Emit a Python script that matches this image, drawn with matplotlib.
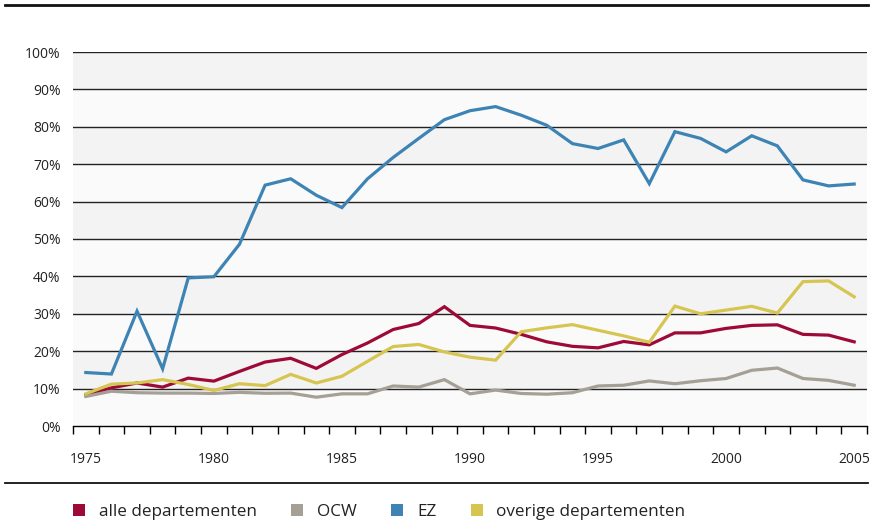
import numpy as np
import matplotlib as mpl
import matplotlib.pyplot as plt
from matplotlib.lines import Line2D
from matplotlib.patches import Patch

mpl.rcParams['font.family'] = ['Open Sans', 'DejaVu Sans']

years = list(range(1975, 2006))

alle = [8.3, 10.2, 11.5, 10.4, 12.8, 12.0, 14.6, 17.1, 18.1, 15.4, 19.1, 22.2,
        25.8, 27.4, 31.9, 26.9, 26.2, 24.5, 22.5, 21.3, 20.9,
        22.6, 21.7, 24.9, 24.9, 26.1, 26.9, 27.05, 24.5, 24.3, 22.5]
ocw = [7.9, 9.3, 8.9, 8.8, 8.8, 8.7, 9.0, 8.75, 8.8, 7.7, 8.6, 8.6,
       10.7, 10.4, 12.4, 8.6, 9.6, 8.7, 8.5, 8.9, 10.7,
       10.9, 12.05, 11.3, 12.1, 12.7, 14.9, 15.5, 12.7, 12.2, 10.9]
ez = [14.3, 13.9, 30.7, 15.3, 39.6, 39.9, 48.6, 64.4, 66.1, 61.7, 58.4, 66.1,
      71.8, 76.9, 81.9, 84.3, 85.4, 83.1, 80.4, 75.5, 74.2,
      76.5, 64.8, 78.7, 76.9, 73.3, 77.6, 74.9, 65.8, 64.2, 64.7]
overig = [8.6, 11.2, 11.5, 12.4, 11.1, 9.5, 11.3, 10.8, 13.8, 11.5, 13.3, 17.3,
          21.25, 21.8, 19.8, 18.4, 17.6, 25.2, 26.25, 27.1, 25.6,
          24.1, 22.4, 32.05, 30.0, 31.0, 32.0, 30.2, 38.6, 38.8, 34.55]

series = [
    ('alle departementen', alle, '#9e0a38'),
    ('OCW', ocw, '#a59f95'),
    ('EZ', ez, '#3d84b5'),
    ('overige departementen', overig, '#d6c550'),
]

fig = plt.figure(figsize=(8.73, 5.25), dpi=100, facecolor='white')
ax = fig.add_axes([73 / 873, 99 / 525, 794 / 873, 374 / 525])

x = np.arange(len(years))

# alternating background bands
for lo in range(0, 100, 10):
    col = '#f3f3f3' if (lo // 10) % 2 == 1 else '#fafafa'
    ax.axhspan(lo, lo + 10, color=col, lw=0, zorder=0)
for v in range(10, 101, 10):
    ax.axhline(v, color='#222222', lw=1.0, zorder=1)

for name, vals, col in series:
    ax.plot(x, vals, color=col, lw=2.3, zorder=3, solid_joinstyle='miter')

ax.set_xlim(-0.5, len(years) - 0.5)
ax.set_ylim(0, 100)

ax.set_yticks(range(0, 101, 10))
ax.set_yticklabels(['%d%%' % v for v in range(0, 101, 10)], fontsize=10, color='#222222')
ax.tick_params(axis='y', length=0, pad=9)

ax.set_xticks(np.arange(-0.5, len(years), 1))
ax.set_xticklabels([])
ax.tick_params(axis='x', which='major', length=6, width=1, color='black', direction='out')
ax.set_xticks(x[::5], minor=True)
ax.set_xticklabels([str(y) for y in years[::5]], minor=True, fontsize=10, color='#222222')
ax.tick_params(axis='x', which='minor', length=0, pad=19)

for s in ['top', 'left', 'right']:
    ax.spines[s].set_visible(False)
ax.spines['bottom'].set_color('black')
ax.spines['bottom'].set_linewidth(1.0)

# rules above and below the chart
fig.add_artist(Line2D([5 / 873, 868 / 873], [1 - 5 / 525, 1 - 5 / 525], color='#111111', lw=2.0))
fig.add_artist(Line2D([5 / 873, 868 / 873], [1 - 483 / 525, 1 - 483 / 525], color='#111111', lw=1.3))

handles = [Patch(facecolor=c, edgecolor='none', label=n) for n, _, c in series]
fig.legend(handles=handles, loc='center left', bbox_to_anchor=(73 / 873, 1 - 512 / 525),
           ncol=4, frameon=False, fontsize=12.3, handlelength=0.72, handleheight=0.72,
           handletextpad=0.8, columnspacing=2.0, labelcolor='#222222',
           borderaxespad=0, borderpad=0)

fig.savefig('out.png', dpi=100)
